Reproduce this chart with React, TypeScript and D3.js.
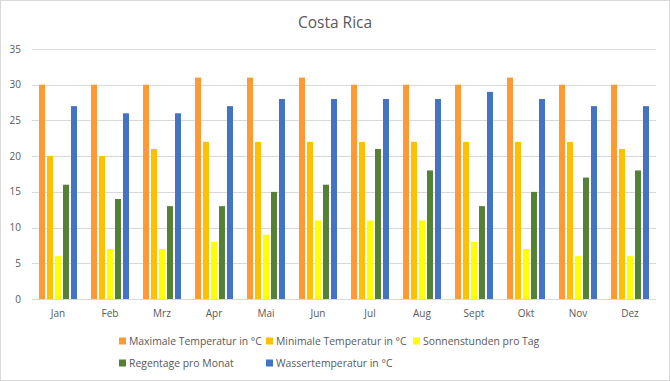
import React from "react";
import * as d3 from "d3";

const months = ["Jan", "Feb", "Mrz", "Apr", "Mai", "Jun", "Jul", "Aug", "Sept", "Okt", "Nov", "Dez"];
const maxTemp = [30, 30, 30, 31, 31, 31, 30, 30, 30, 31, 30, 30];
const minTemp = [20, 20, 21, 22, 22, 22, 22, 22, 22, 22, 22, 21];
const sunHours = [6, 7, 7, 8, 9, 11, 11, 11, 8, 7, 6, 6];
const rainDays = [16, 14, 13, 13, 15, 16, 21, 18, 13, 15, 17, 18];
const waterTemp = [27, 26, 26, 27, 28, 28, 28, 28, 29, 28, 27, 27];
const seriesNames = [
  "Maximale Temperatur in °C",
  "Minimale Temperatur in °C",
  "Sonnenstunden pro Tag",
  "Regentage pro Monat",
  "Wassertemperatur in °C",
];
const seriesColors = ["#FF9933", "#FFC000", "#FFFF00", "#548235", "#4472C4"];
const yTicks = [0, 5, 10, 15, 20, 25, 30, 35];

const W = 670;
const H = 381;
const FONT = "'Open Sans', 'Noto Sans', sans-serif";
const TXT = "#595959";

export default function App() {
  const seriesValues = [maxTemp, minTemp, sunHours, rainDays, waterTemp];
  const left = 32;
  const right = 656;
  const top = 49;
  const bottom = 299;
  const x = d3.scaleBand<string>().domain(months).range([left, right]).paddingInner(0.27).paddingOuter(0.135);
  const xs = d3.scaleBand<number>().domain(d3.range(5)).range([0, x.bandwidth()]).paddingInner(0.25);
  const y = d3.scaleLinear().domain([0, 35]).range([bottom, top]);

  const legendItems = [
    { i: 0, x: 119, y: 341 },
    { i: 1, x: 266, y: 341 },
    { i: 2, x: 413, y: 341 },
    { i: 3, x: 119, y: 363 },
    { i: 4, x: 266, y: 363 },
  ];

  return (
    <svg width={W} height={H} style={{ position: "absolute", left: 0, top: 0, background: "#fff" }} fontFamily={FONT}>
      <rect x={0.5} y={0.5} width={W - 1} height={H - 1} fill="#fff" stroke="#d9d9d9" />
      <text x={335} y={28} textAnchor="middle" fontSize={15.5} fill={TXT}>Costa Rica</text>
      {yTicks.map((t) => (
        <g key={t}>
          <line x1={left} x2={right} y1={Math.round(y(t)) + 0.5} y2={Math.round(y(t)) + 0.5} stroke="#d9d9d9" />
          <text x={21} y={y(t) + 3.5} textAnchor="end" fontSize={10} fill={TXT}>{t}</text>
        </g>
      ))}
      {months.map((m, mi) => (
        <g key={m}>
          {seriesValues.map((vals, si) => (
            <rect
              key={si}
              x={(x(m) as number) + (xs(si) as number)}
              y={y(vals[mi])}
              width={xs.bandwidth()}
              height={bottom - y(vals[mi])}
              fill={seriesColors[si]}
            />
          ))}
          <text x={(x(m) as number) + x.bandwidth() / 2} y={317} textAnchor="middle" fontSize={10} fill={TXT}>{m}</text>
        </g>
      ))}
      {legendItems.map((it) => (
        <g key={it.i}>
          <rect x={it.x} y={it.y - 3.5} width={7} height={7} fill={seriesColors[it.i]} />
          <text x={it.x + 10} y={it.y + 3.5} fontSize={10.4} fill={TXT}>{seriesNames[it.i]}</text>
        </g>
      ))}
    </svg>
  );
}
